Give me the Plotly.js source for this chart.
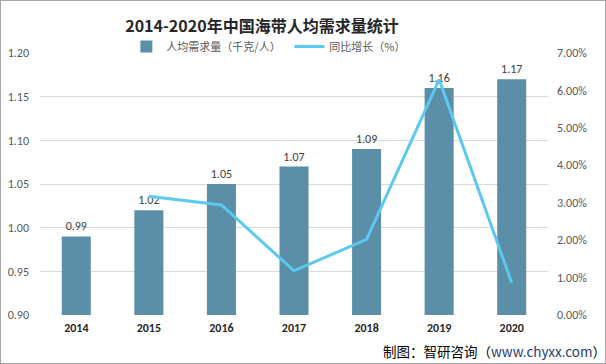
<!DOCTYPE html>
<html><head><meta charset="utf-8">
<script src="https://cdn.plot.ly/plotly-3.0.1.min.js"></script>
<style>
html,body{margin:0;padding:0;background:#fff;}
#chart{width:606px;height:364px;box-sizing:border-box;border:1px solid #A6A6A6;}
</style></head>
<body><div id="chart"></div>
<script>
const years = ['2014','2015','2016','2017','2018','2019','2020'];
const demand = [0.99, 1.02, 1.05, 1.07, 1.09, 1.16, 1.17];
const growthYears = ['2015','2016','2017','2018','2019','2020'];
const growth = [3.17, 2.94, 1.18, 2.02, 6.29, 0.86];
const leftTicks = [0.90, 0.95, 1.00, 1.05, 1.10, 1.15, 1.20];
const rightTicks = [0, 1, 2, 3, 4, 5, 6, 7];

const font = 'Calibri, Carlito, "Liberation Sans", "Noto Sans CJK SC", sans-serif';

const data = [
  {type:'bar', x:years, y:demand, name:'人均需求量（千克/人）',
   marker:{color:'#5B8FA8'}, text:demand.map(v=>v.toFixed(2)), textposition:'outside',
   textfont:{size:12, color:'#404040'}, cliponaxis:false, hoverinfo:'skip'},
  {type:'scatter', mode:'lines', x:growthYears, y:growth, yaxis:'y2', name:'同比增长（%）',
   line:{color:'#5BC8F2', width:3}, hoverinfo:'skip'}
];

const layout = {
  width:604, height:362,
  margin:{l:39, r:57, t:52, b:48, autoexpand:false},
  paper_bgcolor:'#fff', plot_bgcolor:'#fff',
  font:{family:font, color:'#595959', size:12},
  title:{text:'<b>2014-2020年中国海带人均需求量统计</b>', x:0.432, xref:'container', y:0.93, yref:'container',
    xanchor:'center', yanchor:'middle', font:{size:16, color:'#262626', family:'"Noto Sans CJK SC", sans-serif'}},
  showlegend:true,
  legend:{orientation:'h', x:0.17, xanchor:'left', y:1.025, yanchor:'middle',
    font:{size:11, color:'#595959', family:'"Noto Sans CJK SC", sans-serif'}, itemwidth:30, traceorder:'normal',
    entrywidth:118, bgcolor:'rgba(0,0,0,0)'},
  bargap:0.6,
  xaxis:{type:'category', showgrid:false, showline:false, ticks:'', automargin:false,
    tickfont:{size:12, color:'#262626', family:font, weight:'bold'}, ticklabelstandoff:4},
  yaxis:{range:[0.90,1.20], tickvals:leftTicks, ticktext:leftTicks.map(v=>v.toFixed(2)), automargin:false,
    showgrid:true, gridcolor:'#D9D9D9', gridwidth:1, zeroline:false, showline:false,
    tickfont:{size:12, color:'#595959'}, ticklabelstandoff:10},
  yaxis2:{overlaying:'y', side:'right', range:[0,7], tickvals:rightTicks, ticktext:rightTicks.map(v=>v.toFixed(2)+'%'),
    automargin:false, showgrid:false, zeroline:false, showline:false, tickfont:{size:12, color:'#595959'}, ticklabelstandoff:8},
  annotations:[
    {xref:'paper', yref:'paper', x:1.118, y:-0.137, xanchor:'right', yanchor:'middle', showarrow:false,
     text:'制图：智研咨询（<span style="color:#1F3B70">www.chyxx.com</span>）',
     font:{size:13.5, color:'#000', family:'"Noto Sans CJK SC", sans-serif'}}
  ]
};
Plotly.newPlot('chart', data, layout, {displayModeBar:false, staticPlot:true});
</script></body></html>
